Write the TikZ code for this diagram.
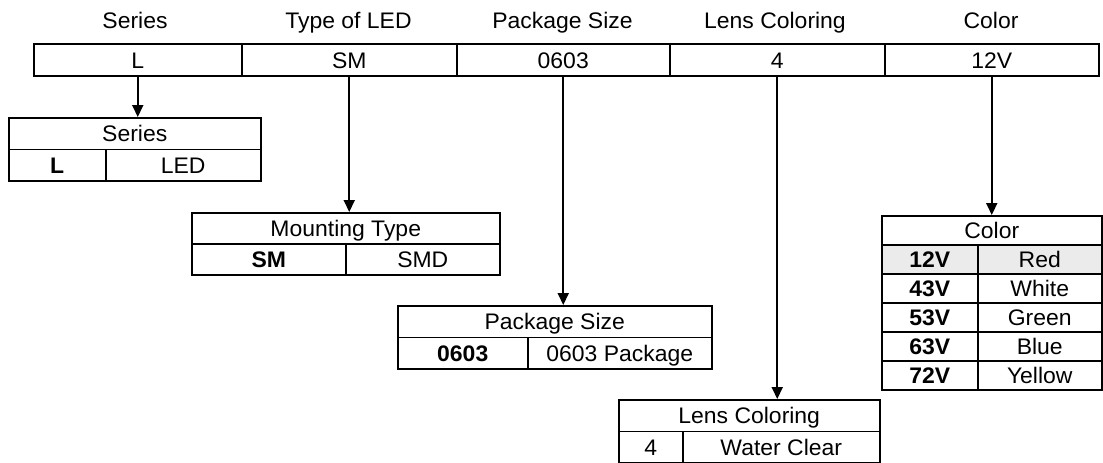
\documentclass[tikz,border=0pt]{standalone}
\usepackage{fontspec}
\setmainfont[FakeStretch=1.02]{Liberation Sans}
\usetikzlibrary{arrows.meta}
\begin{document}
\begin{tikzpicture}[x=1pt,y=-1pt,
  every node/.style={font=\fontsize{22.5}{26}\selectfont},
  cell/.style={draw, line width=1.5pt, inner sep=0pt, anchor=north west, text height=16.5pt, text depth=0pt},
  barcell/.style={cell, minimum height=32, text height=17pt},
  hdr/.style={anchor=base, inner sep=0pt},
  conn/.style={-{Triangle[width=11pt,length=12pt]}, line width=2pt},
  hl/.style={fill=black!8}]

\useasboundingbox (0,0) rectangle (1103,463);

% top bar
\node[barcell, minimum width=208] (b1) at (33,43) {L};
\node[barcell, minimum width=215] (b2) at (241,43) {SM};
\node[barcell, minimum width=213] (b3) at (456,43) {0603};
\node[barcell, minimum width=215] (b4) at (669,43) {4};
\node[barcell, minimum width=214] (b5) at (884,43) {12V};

% headers
\node[hdr] (h1) at (135,28) {Series};
\node[hdr] (h2) at (348.5,28) {Type of LED};
\node[hdr] (h3) at (562.5,28) {Package Size};
\node[hdr] (h4) at (775,28) {Lens Coloring};
\node[hdr] (h5) at (991,28) {Color};

% Series table
\node[cell, minimum width=252, minimum height=31.5] (s0) at (8,117) {Series};
\node[cell, minimum width=97, minimum height=31.5] (s1) at (8,148.5) {\bfseries L};
\node[cell, minimum width=155, minimum height=31.5] (s2) at (105,148.5) {LED};

% Mounting Type table
\node[cell, minimum width=308, minimum height=31] (m0) at (191,212) {Mounting Type};
\node[cell, minimum width=154, minimum height=31] (m1) at (191,243) {\bfseries SM};
\node[cell, minimum width=154, minimum height=31] (m2) at (345,243) {SMD};

% Package Size table
\node[cell, minimum width=314, minimum height=31.5] (p0) at (397,305) {Package Size};
\node[cell, minimum width=130, minimum height=31.5] (p1) at (397,336.5) {\bfseries 0603};
\node[cell, minimum width=184, minimum height=31.5] (p2) at (527,336.5) {0603 Package};

% Lens Coloring table
\node[cell, minimum width=261, minimum height=31.5] (l0) at (618,399) {Lens Coloring};
\node[cell, minimum width=64, minimum height=31.5] (l1) at (618,430.5) {4};
\node[cell, minimum width=197, minimum height=31.5] (l2) at (682,430.5) {Water Clear};

% Color table
\node[cell, minimum width=220, minimum height=29] (c0) at (881,215) {Color};
\node[cell, hl, minimum width=96, minimum height=29] (c1a) at (881,244) {\bfseries 12V};
\node[cell, hl, minimum width=124, minimum height=29] (c1b) at (977,244) {Red};
\node[cell, minimum width=96, minimum height=29] (c2a) at (881,273) {\bfseries 43V};
\node[cell, minimum width=124, minimum height=29] (c2b) at (977,273) {White};
\node[cell, minimum width=96, minimum height=29] (c3a) at (881,302) {\bfseries 53V};
\node[cell, minimum width=124, minimum height=29] (c3b) at (977,302) {Green};
\node[cell, minimum width=96, minimum height=29] (c4a) at (881,331) {\bfseries 63V};
\node[cell, minimum width=124, minimum height=29] (c4b) at (977,331) {Blue};
\node[cell, minimum width=96, minimum height=29] (c5a) at (881,360) {\bfseries 72V};
\node[cell, minimum width=124, minimum height=29] (c5b) at (977,360) {Yellow};

% connectors
\draw[conn] (b1.south) -- (b1.south |- s0.north);
\draw[conn] (b2.south) -- (b2.south |- m0.north);
\draw[conn] (b3.south) -- (b3.south |- p0.north);
\draw[conn] (b4.south) -- (b4.south |- l0.north);
\draw[conn] (b5.south) -- (b5.south |- c0.north);
\end{tikzpicture}
\end{document}
